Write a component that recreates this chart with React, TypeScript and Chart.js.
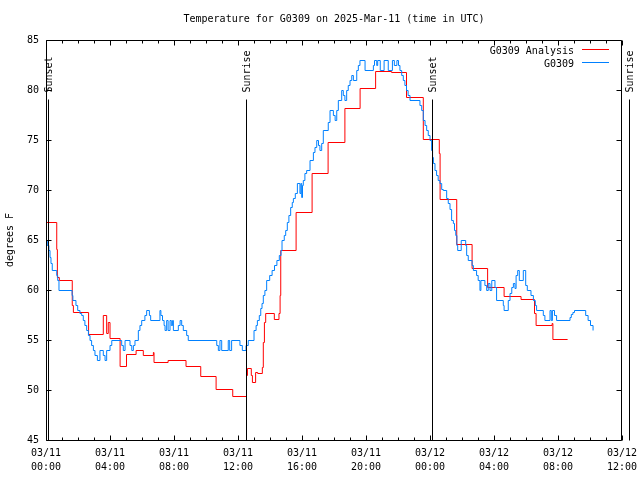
import { useEffect, useRef } from 'react';
import { Chart, registerables } from 'chart.js';

Chart.register(...registerables);

const FONT = "'DejaVu Sans Mono', monospace";
const RED = '#ff0000';
const BLUE = '#0080ff';

const titleText = 'Temperature for G0309 on 2025-Mar-11 (time in UTC)';
const yTitle = 'degrees F';

const xTickHours = [0, 4, 8, 12, 16, 20, 24, 28, 32, 36];
const xTickDates = ['03/11', '03/11', '03/11', '03/11', '03/11', '03/11', '03/12', '03/12', '03/12', '03/12'];
const xTickTimes = ['00:00', '04:00', '08:00', '12:00', '16:00', '20:00', '00:00', '04:00', '08:00', '12:00'];

const sunHours = [0.15, 12.5, 24.12, 36.44];
const sunLabels = ['Sunset', 'Sunrise', 'Sunset', 'Sunrise'];

const analysisLabel = 'G0309 Analysis';
const analysisHours = [0, 0.64, 0.68, 0.8, 1.61, 1.68, 2.63, 3.55, 3.76, 3.86, 3.97, 4.6, 5.0, 5.6, 6.05, 6.68, 6.72, 7.6, 8.72, 9.64, 10.6, 11.64, 12.5, 12.56, 12.8, 12.87, 13.07, 13.2, 13.49, 13.55, 13.62, 13.7, 14.24, 14.53, 14.6, 14.64, 15.6, 16.6, 17.6, 18.65, 19.6, 20.57, 21.57, 22.5, 23.55, 24.55, 24.6, 25.64, 26.6, 27.57, 28.6, 29.66, 30.5, 30.6, 31.6, 31.65, 32.57];
const analysisTemps = [66.8, 64.1, 61.3, 61.0, 58.5, 57.8, 55.6, 57.5, 55.7, 56.8, 55.2, 52.4, 53.6, 54.0, 53.5, 53.8, 52.8, 53.0, 52.4, 51.4, 50.1, 49.4, 51.5, 52.2, 51.5, 50.8, 51.8, 51.7, 52.3, 54.8, 56.8, 57.7, 57.1, 57.7, 59.5, 64.0, 67.8, 71.7, 74.8, 78.2, 80.2, 81.9, 81.8, 79.3, 75.1, 73.7, 69.1, 64.6, 62.2, 60.3, 59.4, 59.1, 57.7, 56.5, 56.7, 55.1, 55.1];

const obsLabel = 'G0309';
const obsHours = [0, 0.05, 0.15, 0.22, 0.28, 0.36, 0.64, 0.7, 0.78, 1.6, 1.65, 1.84, 1.95, 2.09, 2.2, 2.3, 2.4, 2.51, 2.62, 2.72, 2.82, 2.93, 3.03, 3.18, 3.34, 3.55, 3.66, 3.76, 3.97, 4.08, 4.7, 4.8, 4.91, 5.22, 5.33, 5.43, 5.53, 5.74, 5.84, 5.95, 6.15, 6.26, 6.43, 6.51, 7.09, 7.15, 7.25, 7.35, 7.41, 7.51, 7.6, 7.72, 7.8, 7.88, 7.93, 8.24, 8.35, 8.45, 8.55, 8.76, 8.86, 10.64, 10.74, 10.84, 10.95, 11.36, 11.45, 11.57, 12.09, 12.24, 12.47, 12.61, 12.97, 13.1, 13.18, 13.3, 13.39, 13.47, 13.55, 13.65, 13.76, 13.95, 14.1, 14.25, 14.4, 14.55, 14.66, 14.72, 14.86, 14.95, 15.05, 15.15, 15.26, 15.36, 15.43, 15.55, 15.68, 15.84, 15.9, 15.95, 16.0, 16.05, 16.15, 16.26, 16.47, 16.68, 16.78, 16.89, 17.0, 17.09, 17.2, 17.3, 17.61, 17.72, 17.93, 18.04, 18.14, 18.24, 18.45, 18.55, 18.65, 18.76, 18.86, 18.97, 19.08, 19.18, 19.39, 19.49, 19.59, 19.91, 20.43, 20.5, 20.64, 20.7, 20.86, 21.1, 21.36, 21.62, 21.74, 21.9, 22.0, 22.09, 22.2, 22.3, 22.4, 22.5, 22.6, 22.72, 23.34, 23.45, 23.55, 23.66, 23.76, 23.86, 23.97, 24.07, 24.13, 24.18, 24.28, 24.38, 24.48, 24.59, 24.7, 24.8, 25.01, 25.11, 25.22, 25.32, 25.43, 25.5, 25.58, 25.65, 25.7, 25.92, 26.2, 26.26, 26.36, 26.6, 26.68, 26.88, 26.98, 27.09, 27.15, 27.4, 27.51, 27.61, 27.72, 27.83, 28.03, 28.13, 28.55, 28.6, 28.86, 28.97, 29.08, 29.18, 29.28, 29.35, 29.45, 29.55, 29.8, 29.95, 30.05, 30.28, 30.43, 30.55, 30.63, 31.05, 31.15, 31.47, 31.55, 31.62, 31.75, 31.88, 32.72, 32.8, 32.9, 33.0, 33.7, 33.85, 34.0, 34.16];
const obsTemps = [65, 64.5, 64, 63.3, 62.7, 62, 61.5, 61, 60, 59.5, 59, 58.5, 58, 57.7, 57.5, 57, 56.5, 56, 55.5, 55, 54.5, 54, 53.5, 53, 54, 53.5, 53, 54, 54.5, 55, 54.5, 54, 55, 54.5, 54, 54.5, 55, 56, 56.5, 57, 57.5, 58, 57.5, 57, 58, 57.5, 57, 56.5, 56, 57, 56, 57, 56.5, 57, 56, 56.5, 57, 56.5, 56, 55.5, 55, 54.5, 54, 55, 54, 55, 54, 55, 54.5, 54, 54.5, 55, 56, 56.5, 57, 57.5, 58.2, 58.7, 59.5, 60, 61, 61.5, 62, 62.5, 63, 63.5, 64, 65, 65.5, 66, 66.8, 67.5, 68.3, 68.8, 69.2, 69.7, 70.7, 69.7, 70.7, 69.3, 70.5, 71, 71.7, 72, 73, 73.8, 74.3, 75, 74.5, 74, 74.7, 76, 76.8, 78, 77.5, 77, 78, 79, 80, 79.5, 79, 80, 80.5, 81, 81.5, 81, 82, 82.5, 83, 82, 82.5, 83, 82.5, 83, 82, 83, 82, 83, 82.5, 83, 82.5, 82, 81.5, 81, 80.5, 80, 79.5, 79, 78.5, 78, 77, 76.5, 76, 75.5, 75, 74, 73.3, 72.7, 72, 71.5, 71, 70.7, 70.1, 70, 69.2, 68.7, 68.1, 67, 66.7, 66, 65.5, 64.5, 64, 65, 64.5, 63.5, 63, 62.5, 62, 61.5, 61, 60, 61, 60.5, 60, 60.7, 60, 61, 60.3, 59, 58.5, 58, 59, 59.7, 60.3, 60.7, 60.2, 61.5, 62, 61, 62, 60.5, 60, 59.5, 59, 58.5, 58, 57.5, 57, 58, 57, 58, 57.5, 57, 57.3, 57.6, 57.8, 58, 57.5, 57, 56.5, 56];

const framePlugin = {
  id: 'gnuframe',
  beforeDatasetsDraw(chart: any) {
    chart.ctx.save();
    chart.ctx.translate(0.5, 0.5);
  },
  afterDatasetsDraw(chart: any) {
    chart.ctx.restore();
    const { ctx, chartArea: a, scales } = chart;
    const xs = scales.x;
    const ys = scales.y;
    const L = Math.round(a.left) + 0.5;
    const R = Math.round(a.right) - 0.5;
    const T = Math.round(a.top) + 0.5;
    const B = Math.round(a.bottom) + 0.5;
    ctx.save();
    ctx.strokeStyle = '#000';
    ctx.lineWidth = 1;
    ctx.beginPath();
    ctx.rect(L, T, R - L, B - T);
    const minH = xs.min;
    const maxH = xs.max;
    for (let h = minH; h <= maxH; h += 1) {
      const px = Math.round(xs.getPixelForValue(h)) + 0.5;
      const len = h % 4 === 0 ? 5 : 3;
      ctx.moveTo(px, B);
      ctx.lineTo(px, B - len);
      ctx.moveTo(px, T);
      ctx.lineTo(px, T + len);
    }
    ys.ticks.forEach((t: any) => {
      const py = Math.round(ys.getPixelForValue(t.value)) + 0.5;
      ctx.moveTo(L, py);
      ctx.lineTo(L + 5, py);
      ctx.moveTo(R, py);
      ctx.lineTo(R - 5, py);
    });
    ctx.stroke();

    // sunrise / sunset markers
    ctx.font = `10px ${FONT}`;
    ctx.fillStyle = '#000';
    sunHours.forEach((h, i) => {
      const px = Math.round(xs.getPixelForValue(h)) + 0.5;
      ctx.beginPath();
      ctx.moveTo(px, T + 59);
      ctx.lineTo(px, B);
      ctx.stroke();
      ctx.save();
      ctx.translate(px + 1, T + 52);
      ctx.rotate(-Math.PI / 2);
      ctx.textAlign = 'left';
      ctx.textBaseline = 'middle';
      ctx.fillText(sunLabels[i], 0, 0);
      ctx.restore();
    });

    // title
    ctx.textAlign = 'center';
    ctx.textBaseline = 'middle';
    ctx.fillText(titleText, (a.left + a.right) / 2, 19);

    // legend
    const items = [
      { label: analysisLabel, color: RED },
      { label: obsLabel, color: BLUE },
    ];
    items.forEach((it, i) => {
      const yy = Math.round(a.top + 10 + i * 12.5) + 0.5;
      ctx.textAlign = 'right';
      ctx.fillStyle = '#000';
      ctx.fillText(it.label, a.right - 48, yy + 0.5);
      ctx.strokeStyle = it.color;
      ctx.beginPath();
      ctx.moveTo(a.right - 40, yy - 1);
      ctx.lineTo(a.right - 13, yy - 1);
      ctx.stroke();
    });
    ctx.restore();
  },
};

export default function App() {
  const ref = useRef<HTMLCanvasElement>(null);
  useEffect(() => {
    document.body.style.margin = '0';
    const canvas = ref.current;
    if (!canvas) return;
    const chart = new Chart(canvas, {
      type: 'line',
      data: {
        datasets: [
          {
            label: obsLabel,
            data: obsHours.map((h, i) => ({ x: h, y: obsTemps[i] })),
            borderColor: BLUE,
            backgroundColor: BLUE,
            borderWidth: 1,
            pointRadius: 0,
            stepped: true,
            fill: false,
            order: 0,
          },
          {
            label: analysisLabel,
            data: analysisHours.map((h, i) => ({ x: h, y: analysisTemps[i] })),
            borderColor: RED,
            backgroundColor: RED,
            borderWidth: 1,
            pointRadius: 0,
            stepped: true,
            fill: false,
            order: 1,
          },
        ],
      },
      options: {
        responsive: false,
        animation: false,
        events: [],
        layout: { padding: { top: 40, right: 18, left: 0, bottom: 0 } },
        plugins: {
          legend: { display: false },
          tooltip: { enabled: false },
          title: { display: false },
        },
        scales: {
          x: {
            type: 'linear',
            min: 0,
            max: 36,
            afterFit: (s: any) => {
              s.height = 40;
              s.paddingLeft = 0;
              s.paddingRight = 0;
            },
            afterBuildTicks: (s: any) => {
              s.ticks = xTickHours.map((v) => ({ value: v }));
            },
            grid: { display: false, drawTicks: false },
            border: { display: false },
            ticks: {
              autoSkip: false,
              maxRotation: 0,
              minRotation: 0,
              padding: 6,
              color: '#000',
              font: { family: FONT, size: 10, lineHeight: 1.4 },
              callback: (v: any) => {
                const i = xTickHours.indexOf(Number(v));
                return i >= 0 ? [xTickDates[i], xTickTimes[i]] : '';
              },
            },
          },
          y: {
            type: 'linear',
            min: 45,
            max: 85,
            afterFit: (s: any) => {
              s.width = 46;
              s.paddingTop = 0;
              s.paddingBottom = 0;
            },
            grid: { display: false, drawTicks: false },
            border: { display: false },
            ticks: {
              stepSize: 5,
              padding: 7,
              color: '#000',
              font: { family: FONT, size: 10 },
            },
            title: {
              display: true,
              text: yTitle,
              color: '#000',
              font: { family: FONT, size: 10 },
              padding: { top: 4, bottom: 0 },
            },
          },
        },
      },
      plugins: [framePlugin],
    } as any);
    return () => chart.destroy();
  }, []);
  return (
    <div style={{ position: 'absolute', left: 0, top: 0, width: 640, height: 480 }}>
      <canvas ref={ref} width={640} height={480} style={{ display: 'block' }} />
    </div>
  );
}
